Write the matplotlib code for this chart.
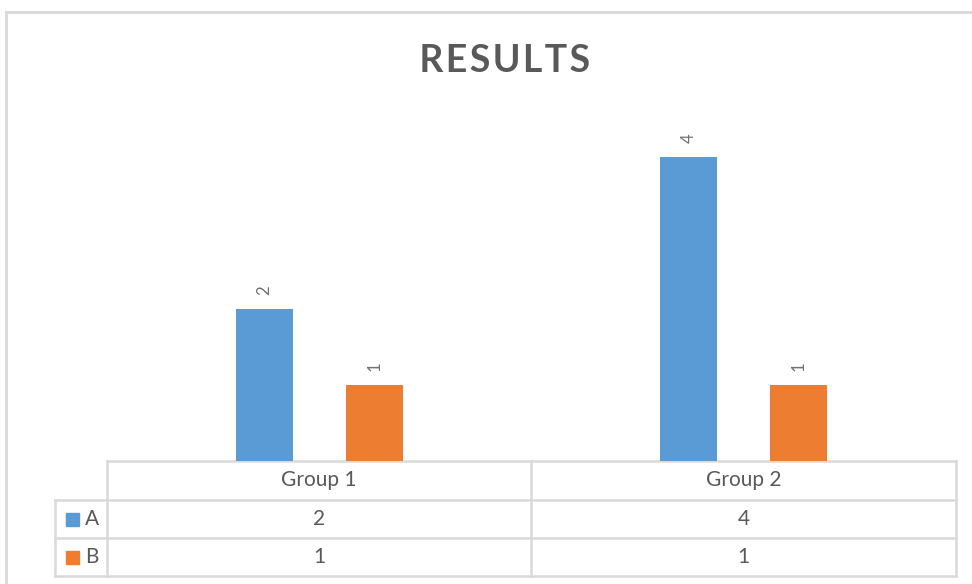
import matplotlib.pyplot as plt
import numpy as np

# chart data
groups = ['Group 1', 'Group 2']
series = ['A', 'B']
values_a = [2, 4]
values_b = [1, 1]

colors = ['#5B9BD5', '#ED7D31']
text_col = '#595959'
grid_col = '#D9D9D9'

plt.rcParams['font.family'] = ['Lato', 'DejaVu Sans']

W, H = 972, 584
fig = plt.figure(figsize=(W / 100, H / 100), dpi=100)

# overlay axes in pixel coords for frame, title and the data table
ov = fig.add_axes([0, 0, 1, 1])
ov.set_xlim(0, W)
ov.set_ylim(H, 0)
ov.axis('off')

# chart frame
ov.plot([6, 6], [12, H], color=grid_col, lw=2)
ov.plot([6, W], [12, 12], color=grid_col, lw=2)

ov.text(504, 61, '\u200aR\u200aE\u200aS\u200aU\u200aL\u200aT\u200aS', ha='center', va='center',
        fontsize=27, fontweight='bold', color=text_col)

# bar axes
left, right, base, top = 107, 956, 461, 81
ax = fig.add_axes([left / W, (H - base) / H, (right - left) / W, (base - top) / H])
ax.patch.set_alpha(0)
ax.set_xlim(-0.5, len(groups) - 0.5)
ax.set_ylim(0, 5)
ax.axis('off')

x = np.arange(len(groups))
bw = 0.134
off = 0.130
for vals, c, sgn in [(values_a, colors[0], -1), (values_b, colors[1], 1)]:
    bars = ax.bar(x + sgn * off, vals, width=bw, color=c, zorder=3)
    for b, v in zip(bars, vals):
        ax.annotate(str(v), (b.get_x() + b.get_width() / 2, v), xytext=(0, 10),
                    textcoords='offset points', ha='center', va='bottom',
                    rotation=90, fontsize=12, color='#707070')

# data table
col_x = [left, 531, right]
row_y = [461, 500, 538, 576]
leg_x = 55
ov.plot([left, right], [row_y[0], row_y[0]], color=grid_col, lw=1.8)
for y in row_y[1:]:
    ov.plot([leg_x, right], [y, y], color=grid_col, lw=1.8)
for cx in col_x:
    ov.plot([cx, cx], [row_y[0], row_y[-1]], color=grid_col, lw=1.8)
ov.plot([leg_x, leg_x], [row_y[1], row_y[-1]], color=grid_col, lw=1.8)

centers = [(col_x[i] + col_x[i + 1]) / 2 for i in range(len(groups))]
for cxx, g in zip(centers, groups):
    ov.text(cxx, (row_y[0] + row_y[1]) / 2, g, ha='center', va='center',
            fontsize=15, color=text_col)

for r, (name, vals, c) in enumerate(zip(series, [values_a, values_b], colors)):
    ym = (row_y[r + 1] + row_y[r + 2]) / 2
    ov.add_patch(plt.Rectangle((66, ym - 6.5), 13, 13, color=c))
    ov.text(85, ym, name, ha='left', va='center', fontsize=15, color=text_col)
    for cxx, v in zip(centers, vals):
        ov.text(cxx, ym, str(v), ha='center', va='center', fontsize=15, color=text_col)

fig.savefig('out.png', dpi=100, facecolor='white')
